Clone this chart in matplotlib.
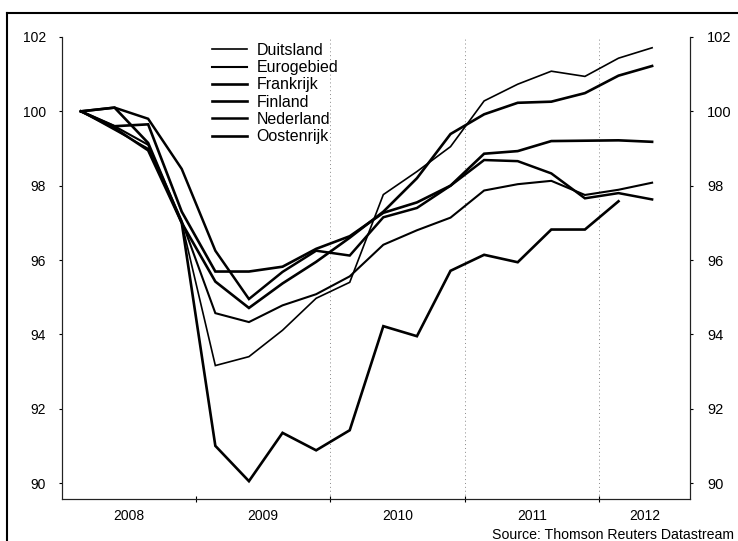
import matplotlib
matplotlib.use("Agg")
import matplotlib.pyplot as plt
from matplotlib.lines import Line2D

plt.rcParams['font.family'] = ['Liberation Sans', 'DejaVu Sans']

# BBP-index per kwartaal, 2008K1 = 100
quarters = ['2008Q1', '2008Q2', '2008Q3', '2008Q4',
            '2009Q1', '2009Q2', '2009Q3', '2009Q4',
            '2010Q1', '2010Q2', '2010Q3', '2010Q4',
            '2011Q1', '2011Q2', '2011Q3', '2011Q4',
            '2012Q1', '2012Q2']

duitsland = [100, 99.5, 99.0, 97.0, 93.16, 93.4, 94.11, 94.97, 95.4, 97.76,
             98.38, 99.05, 100.28, 100.73, 101.08, 100.94, 101.43, 101.71]
eurogebied = [100, 99.6, 99.1, 97.05, 94.57, 94.33, 94.78, 95.08, 95.56, 96.41,
              96.8, 97.14, 97.87, 98.04, 98.13, 97.75, 97.89, 98.08]
frankrijk = [100, 99.6, 99.65, 97.3, 95.69, 95.69, 95.82, 96.3, 96.64, 97.27,
             97.55, 98.0, 98.86, 98.93, 99.2, 99.21, 99.22, 99.18]
finland = [100, 99.55, 98.95, 97.0, 91.0, 90.05, 91.35, 90.88, 91.42, 94.22,
           93.95, 95.71, 96.14, 95.94, 96.82, 96.82, 97.58]
nederland = [100, 100.1, 99.8, 98.45, 96.25, 94.95, 95.68, 96.25, 96.12, 97.15,
             97.4, 98.0, 98.69, 98.66, 98.33, 97.66, 97.8, 97.63]
oostenrijk = [100, 100.1, 99.15, 97.0, 95.42, 94.71, 95.37, 95.95, 96.6, 97.3,
              98.2, 99.39, 99.92, 100.23, 100.26, 100.49, 100.96, 101.22]

years = ['2008', '2009', '2010', '2011', '2012']


def quarter_pos(q):
    # punt iets na het midden van het kwartaal
    return int(q[:4]) + (int(q[-1]) - 1 + 0.58) / 4


x = [quarter_pos(q) for q in quarters]

series = [('Duitsland', duitsland, 1.2),
          ('Eurogebied', eurogebied, 1.5),
          ('Frankrijk', frankrijk, 1.9),
          ('Finland', finland, 1.9),
          ('Nederland', nederland, 1.8),
          ('Oostenrijk', oostenrijk, 1.9)]

W, H = 738, 541
fig = plt.figure(figsize=(W / 100, H / 100), dpi=100)
ax = fig.add_axes([62 / W, 1 - 499 / H, (690 - 62) / W, (499 - 37) / H])

for name, vals, lw in series:
    ax.plot(x[:len(vals)], vals, color='black', lw=lw, label=name,
            solid_joinstyle='miter')

xmin, xmax = 2008.004, 2012.677
ax.set_xlim(xmin, xmax)
ax.set_ylim(89.57, 102.0)

# jaargrenzen
ax.set_xticks([2009, 2010, 2011, 2012])
ax.set_xticklabels([])
for b in [2010, 2011, 2012]:
    ax.axvline(b, color='#888888', lw=0.7, ls=(0, (1, 3)), zorder=0)
ax.set_xticks([2008.5, 2009.5, 2010.5, 2011.5, (2012 + xmax) / 2], minor=True)
ax.set_xticklabels(years, minor=True)
ax.tick_params(axis='x', which='major', direction='inout', length=5, width=0.8)
ax.tick_params(axis='x', which='minor', length=0, pad=7, labelsize=10)

ax.set_yticks(range(90, 103, 2))
ax.tick_params(axis='y', direction='out', length=2.5, width=0.8, pad=9,
               labelsize=10)

ax2 = ax.twinx()
ax2.set_ylim(ax.get_ylim())
ax2.set_yticks(range(90, 103, 2))
ax2.tick_params(axis='y', direction='out', length=2.5, width=0.8, pad=10,
                labelsize=10.5)

for a in (ax, ax2):
    a.spines['top'].set_visible(False)
    for s in ('left', 'right', 'bottom'):
        a.spines[s].set_linewidth(0.8)
        a.spines[s].set_color('#222222')

ax.legend(loc='upper left', bbox_to_anchor=(212 / W, 1 - 43 / H),
          bbox_transform=fig.transFigure, frameon=False, fontsize=11.5,
          handlelength=2.2, handletextpad=0.6, labelspacing=0.14,
          borderpad=0, borderaxespad=0)

fig.text(734 / W, 1 - 535 / H, 'Source: Thomson Reuters Datastream',
         ha='right', va='center', fontsize=10.2)

# kader om de grafiek
fig.add_artist(Line2D([7 / W, 7 / W], [0, 1 - 13 / H],
                      transform=fig.transFigure, color='black', lw=1.5))
fig.add_artist(Line2D([7 / W, 1], [1 - 13 / H, 1 - 13 / H],
                      transform=fig.transFigure, color='black', lw=1.5))

fig.savefig('out.png', dpi=100)
